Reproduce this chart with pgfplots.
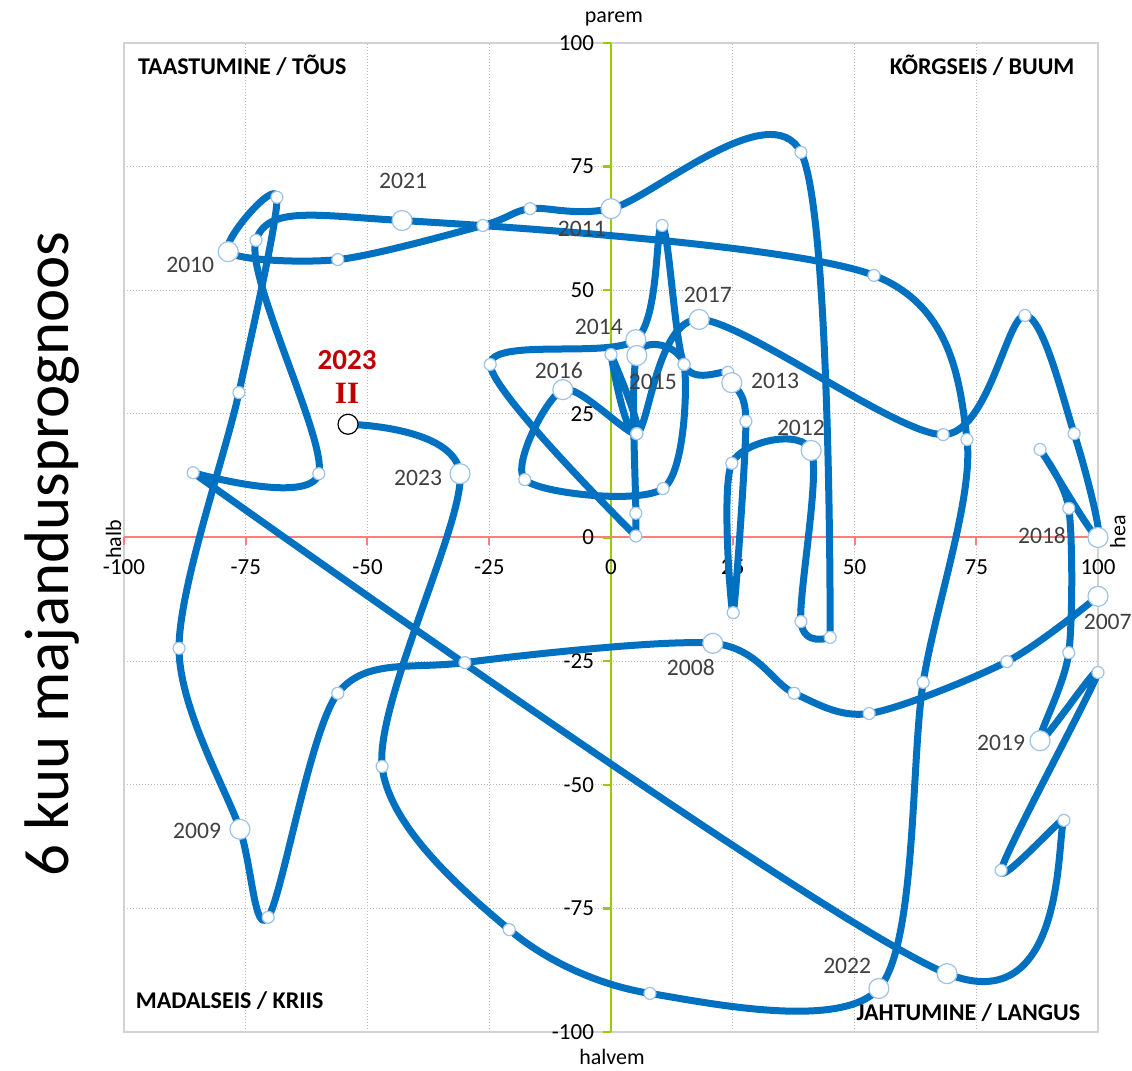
\documentclass[border=0pt]{standalone}
\usepackage{fontspec}
\setmainfont{Carlito}
\newfontfamily\romanII{Liberation Serif}
\usepackage{pgfplots}
\usepackage{pgfplotstable}
\pgfplotsset{compat=1.18}

\definecolor{curve}{RGB}{0,112,192}
\definecolor{xaxis}{RGB}{255,124,128}
\definecolor{yaxis}{RGB}{153,204,0}
\definecolor{ring}{RGB}{157,195,230}
\definecolor{yeartext}{RGB}{64,64,64}
\definecolor{darkred}{RGB}{192,0,0}
\definecolor{gridgray}{RGB}{185,185,185}
\definecolor{framegray}{RGB}{210,210,210}

% quarterly path, 2007 I ... 2023 II
\pgfplotstableread{
x y
100 -11.9
81.3 -25.1
53 -35.6
37.6 -31.5
20.9 -21.4
-30 -25.3
-56.1 -31.5
-70.4 -76.8
-76.2 -59
-88.7 -22.4
-76.4 29.3
-68.6 68.8
-78.6 57.8
-56.1 56.2
-26.3 63.1
-16.6 66.5
0 66.5
39 77.9
45 -20.2
39 -17
41.1 17.6
24.8 15
25.1 -15.2
27.7 23.5
24.8 31.3
24 33.4
15 35
10.5 63.1
5.1 40
-24.8 35
5.1 0.3
5.1 4.9
5.3 36.8
15 35
10.7 9.9
-17.7 11.7
-9.9 29.9
5.3 21
0 37
5.3 21
18.1 44.1
68.2 20.8
85 44.9
95.1 21
100 0
88.1 17.8
94 5.9
94 -23.3
88.1 -41.1
100 -27.3
80.1 -67.3
93 -57.2
69 -88.2
-85.8 13.1
-60 12.9
-72.9 60.1
-42.9 64.1
54 53
73.1 19.8
64.1 -29.3
55 -91.2
8 -92.2
-20.9 -79.3
-47 -46.3
-31 12.9
-54 22.9
}\quarters

% first quarter of each year
\pgfplotstableread{
x y
100 -11.9
20.9 -21.4
-76.2 -59
-78.6 57.8
0 66.5
41.1 17.6
24.8 31.3
5.1 40
5.3 36.8
-9.9 29.9
18.1 44.1
100 0
88.1 -41.1
69 -88.2
-42.9 64.1
55 -91.2
-31 12.9
}\yearpts

\begin{document}
\begin{tikzpicture}
\path[use as bounding box] (-62pt,-19.5pt) rectangle (504pt,516pt);
\pgfplotsset{base/.style={
    width=487pt, height=494.5pt, scale only axis,
    xmin=-100, xmax=100, ymin=-100, ymax=100,
    at={(0,0)}, anchor=south west},
  path/.style={curve, line width=3.5pt, smooth, tension=0.5,
    line cap=round, line join=round}}

% frame and grid
\begin{axis}[base,
    xtick={-75,-50,-25,25,50,75}, ytick={-75,-50,-25,25,50,75},
    xticklabels={}, yticklabels={},
    major tick length=0pt,
    grid=major,
    major grid style={gridgray, line width=0.5pt, densely dotted},
    axis line style={framegray, line width=0.6pt}]
\end{axis}

\begin{axis}[base,
    axis lines=middle,
    every inner x axis line/.append style={-},
    every inner y axis line/.append style={-},
    x axis line style={-, xaxis, line width=1pt},
    y axis line style={-, yaxis, line width=1.2pt},
    xtick={-100,-75,-50,-25,0,25,50,75,100},
    ytick={-100,-75,-50,-25,0,25,50,75,100},
    xticklabels={-100,-75,-50,-25,0,25,50,75,100},
    yticklabels={-100,-75,-50,-25,0,25,50,75,100},
    hide obscured x ticks=false, hide obscured y ticks=false,
    tick align=outside,
    major tick length=4pt,
    x tick style={xaxis, line width=1pt},
    y tick style={yaxis, line width=1.2pt},
    ticklabel style={font=\fontsize{11.5}{13}\selectfont},
    xticklabel style={yshift=-3.5pt},
    yticklabel style={xshift=-1pt},
    clip=false]

% the path is drawn in smooth pieces, broken at the sharp turns
\addplot[path, skip coords between index={19}{70}] table[x=x, y=y] {\quarters};
\addplot[path, skip coords between index={0}{18},
    skip coords between index={31}{70}] table[x=x, y=y] {\quarters};
\addplot[path, skip coords between index={0}{30},
    skip coords between index={54}{70}] table[x=x, y=y] {\quarters};
\addplot[path, skip coords between index={0}{53}] table[x=x, y=y] {\quarters};

\addplot[only marks, mark=*, mark size=3pt,
    mark options={fill=white, draw=ring, line width=0.6pt}] table[x=x, y=y] {\quarters};
\addplot[only marks, mark=*, mark size=5pt,
    mark options={fill=white, draw=ring, line width=0.6pt}] table[x=x, y=y] {\yearpts};
\addplot[only marks, mark=*, mark size=5pt,
    mark options={fill=white, draw=black, line width=0.6pt}] coordinates {(-54,22.9)};

% year labels
\begin{scope}[every node/.style={text=yeartext, font=\fontsize{11.8}{13}\selectfont, inner sep=0pt}]
\node at (axis cs:102,-17) {2007};
\node at (axis cs:16.4,-26.3) {2008};
\node at (axis cs:-85,-59.3) {2009};
\node at (axis cs:-86.4,55.2) {2010};
\node at (axis cs:-6,62.3) {2011};
\node at (axis cs:39,22.2) {2012};
\node at (axis cs:33.7,31.7) {2013};
\node at (axis cs:-2.5,42.5) {2014};
\node at (axis cs:8.6,31.5) {2015};
\node at (axis cs:-10.7,33.8) {2016};
\node at (axis cs:19.9,49.1) {2017};
\node at (axis cs:88.5,0.4) {2018};
\node at (axis cs:80.1,-41.5) {2019};
\node at (axis cs:-42.7,72.2) {2021};
\node at (axis cs:48.5,-86.6) {2022};
\node at (axis cs:-39.6,12.1) {2023};
\end{scope}
\node[text=darkred, font=\bfseries\fontsize{14.5}{16}\selectfont, inner sep=0pt] at (axis cs:-54.2,35.8) {2023};
\node[text=darkred, font=\romanII\bfseries\fontsize{15.5}{16}\selectfont, inner sep=0pt] at (axis cs:-54.2,29.1) {II};

% quadrant names
\begin{scope}[every node/.style={font=\bfseries\fontsize{12}{14}\selectfont, anchor=base, inner sep=0pt}]
\node at (axis cs:-75.7,93.6) {TAASTUMINE / TÕUS};
\node at (axis cs:76.2,93.6) {KÕRGSEIS / BUUM};
\node at (axis cs:-78.3,-95.2) {MADALSEIS / KRIIS};
\node at (axis cs:73.4,-97.7) {JAHTUMINE / LANGUS};
\end{scope}

% axis captions
\begin{scope}[every node/.style={font=\fontsize{11}{13}\selectfont, anchor=base, inner sep=0pt}]
\node at (axis cs:0.6,104.1) {parem};
\node at (axis cs:0.2,-106.6) {halvem};
\node[rotate=90] at (axis cs:-100.6,-0.4) {halb};
\node[rotate=90] at (axis cs:105.6,1.2) {hea};
\end{scope}
\node[rotate=90, anchor=base, inner sep=0pt, font=\fontsize{31.5}{34}\selectfont] at (axis cs:-111.3,-3.4) {6 kuu majandusprognoos};
\end{axis}
\end{tikzpicture}
\end{document}
